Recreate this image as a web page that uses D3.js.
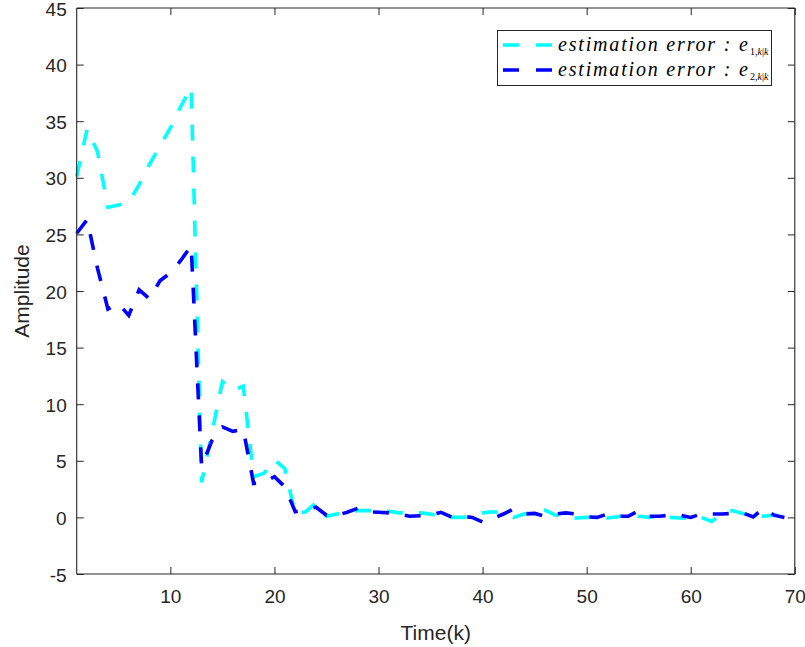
<!DOCTYPE html>
<html><head><meta charset="utf-8">
<script src="https://cdn.jsdelivr.net/npm/d3@7"></script>
<style>body{margin:0;background:#fff}svg{display:block}</style>
</head><body><svg id="c" width="805" height="647"></svg>
<script>
const timeK = [1,2,3,4,5,6,7,8,9,10,11,12,13,14,15,16,17,18,19,20,21,22,23,24,25,26,27,28,29,30,
  31,32,33,34,35,36,37,38,39,40,41,42,43,44,45,46,47,48,49,50,51,52,53,54,55,56,57,58,59,60,
  61,62,63,64,65,66,67,68,69];
const e1 = [30.1,34.3,32.3,27.4,27.6,27.8,29.4,31.2,32.8,34.4,36.3,38.0,3.1,7.5,12.0,11.2,11.6,3.6,3.9,5.1,
  4.3,0.3,0.5,1.3,0.1,0.3,0.5,0.6,0.6,0.6,0.55,0.4,0.4,0.4,0.3,0.1,0.0,0.0,0.1,0.4,
  0.5,0.4,0.0,0.3,0.5,0.65,0.2,0.0,-0.05,0.0,0.0,-0.05,0.05,0.25,0.1,0.0,0.1,0.0,-0.05,-0.1,
  0.0,-0.35,0.3,0.6,0.35,0.2,0.1,0.2,0.1];
const e2 = [25.1,26.3,22.0,18.4,18.9,17.85,20.1,19.3,20.9,21.6,22.7,24.0,4.5,6.8,8.0,7.6,7.8,3.0,3.1,3.6,
  2.7,0.5,0.7,0.9,0.2,0.2,0.45,0.8,0.5,0.45,0.4,0.3,0.1,0.15,0.2,0.45,0.05,0.1,0.0,-0.4,
  -0.1,0.3,0.75,0.3,0.35,0.1,0.3,0.4,0.3,0.05,0.0,0.3,0.1,0.1,0.6,0.1,0.1,0.2,0.2,0.0,
  0.3,0.3,0.3,0.35,0.4,0.05,0.8,0.2,0.0];
const xTicks = [10,20,30,40,50,60,70];
const yTicks = [-5,0,5,10,15,20,25,30,35,40,45];
const seriesNames = ["estimation error : e", "estimation error : e"];
const seriesSubs = ["1", "2"];
const seriesColors = ["#00ffff", "#0000ff"];

const svg = d3.select("#c");
svg.append("rect").attr("width",805).attr("height",647).attr("fill","#fff");
const L = 76.7, R = 794.8, T = 8, B = 574;
const x = d3.scaleLinear().domain([1,70]).range([L,R]);
const y = d3.scaleLinear().domain([-5,45]).range([B,T]);
const axisColor = "#262626";
const tickFont = "'Liberation Sans', Arial, Helvetica, sans-serif";

// lines
const line = d3.line().x((d,i)=>x(timeK[i])).y(d=>y(d));
[e1,e2].forEach((s,j)=>{
  svg.append("path").datum(s).attr("d",line).attr("fill","none")
    .attr("stroke",seriesColors[j]).attr("stroke-width",3.6)
    .attr("stroke-dasharray","16,16").attr("stroke-linejoin","miter");
});

// axes
const fmt = d => String(d);
const gB = svg.append("g").attr("transform",`translate(0,${B})`)
  .call(d3.axisBottom(x).tickValues(xTicks).tickSize(-7).tickPadding(16).tickFormat(fmt));
const gT = svg.append("g").attr("transform",`translate(0,${T})`)
  .call(d3.axisTop(x).tickValues(xTicks).tickSize(-7).tickFormat(""));
const gL = svg.append("g").attr("transform",`translate(${L},0)`)
  .call(d3.axisLeft(y).tickValues(yTicks).tickSize(-7).tickPadding(10).tickFormat(fmt));
const gR = svg.append("g").attr("transform",`translate(${R},0)`)
  .call(d3.axisRight(y).tickValues(yTicks).tickSize(-7).tickFormat(""));
[gB,gT,gL,gR].forEach(g=>{
  g.select(".domain").attr("stroke",axisColor).attr("stroke-width",1.1);
  g.selectAll(".tick line").attr("stroke",axisColor).attr("stroke-width",1);
  g.selectAll("text").attr("fill",axisColor).style("font-family",tickFont).style("font-size","19px");
});
gL.selectAll("text").attr("dy","0.37em");
gB.selectAll(".domain").attr("d",`M${L},0H${R}`);
gT.selectAll(".domain").attr("d",`M${L},0H${R}`);
gL.selectAll(".domain").attr("d",`M0,${T}V${B}`);
gR.selectAll(".domain").attr("d",`M0,${T}V${B}`);

// axis labels
svg.append("text").attr("x",(L+R)/2).attr("y",640).attr("text-anchor","middle")
  .attr("fill",axisColor).style("font-family",tickFont).style("font-size","21px").text("Time(k)");
svg.append("text").attr("transform",`translate(29,${(T+B)/2}) rotate(-90)`).attr("text-anchor","middle")
  .attr("fill",axisColor).style("font-family",tickFont).style("font-size","21px").text("Amplitude");

// legend
const lg = svg.append("g");
lg.append("rect").attr("x",497.5).attr("y",30.5).attr("width",274).attr("height",55)
  .attr("fill","#fff").attr("stroke",axisColor).attr("stroke-width",1);
const rowsY = [45,70];
seriesNames.forEach((n,j)=>{
  const yy = rowsY[j];
  lg.append("line").attr("x1",503).attr("x2",552).attr("y1",yy).attr("y2",yy)
    .attr("stroke",seriesColors[j]).attr("stroke-width",3.6).attr("stroke-dasharray","16,17");
  lg.append("text").attr("x",558).attr("y",yy+6).attr("textLength",190).attr("lengthAdjust","spacing")
    .style("font-family","'Liberation Serif', 'DejaVu Serif', serif").style("font-style","italic")
    .style("font-size","20px").attr("fill","#000").text(n);
  const sub = lg.append("text").attr("x",750).attr("y",yy+10)
    .style("font-family","'Liberation Serif', 'DejaVu Serif', serif").style("font-size","10px").attr("fill","#000");
  sub.append("tspan").text(seriesSubs[j]+",");
  sub.append("tspan").style("font-style","italic").text("k");
  sub.append("tspan").text("|");
  sub.append("tspan").style("font-style","italic").text("k");
});
</script></body></html>
